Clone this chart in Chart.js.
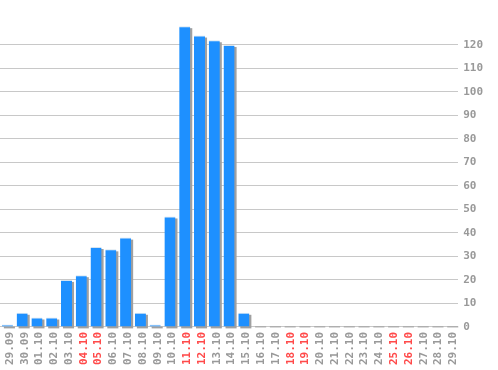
<!DOCTYPE html>
<html>
<head>
<meta charset="utf-8">
<script src="https://cdn.jsdelivr.net/npm/chart.js@4/dist/chart.umd.min.js"></script>
<style>
html,body{margin:0;padding:0;background:#fff;}
#wrap{width:498px;height:370px;position:relative;}
</style>
</head>
<body>
<div id="wrap"><canvas id="c" width="498" height="370"></canvas></div>
<script>
const categories = ["29.09","30.09","01.10","02.10","03.10","04.10","05.10","06.10","07.10","08.10","09.10","10.10","11.10","12.10","13.10","14.10","15.10","16.10","17.10","18.10","19.10","20.10","21.10","22.10","23.10","24.10","25.10","26.10","27.10","28.10","29.10"];
const values = [1,6,4,4,20,22,34,33,38,6,1,47,128,124,122,120,6,0,0,0,0,0,0,0,0,0,0,0,0,0,0];
const weekendDays = ["04.10","05.10","11.10","12.10","18.10","19.10","25.10","26.10"];
const yTickValues = [0,10,20,30,40,50,60,70,80,90,100,110,120];

const shadowPlugin = {
  id: 'barShadow',
  beforeDatasetsDraw(chart) {
    const ctx = chart.ctx;
    const meta = chart.getDatasetMeta(0);
    ctx.save();
    ctx.fillStyle = '#a0a0a0';
    meta.data.forEach((bar, i) => {
      const p = bar.getProps(['x','y','base','width'], true);
      const left = p.x - p.width / 2 + 2;
      if (values[i] > 0) {
        ctx.fillRect(left, p.y + 2, p.width, p.base - p.y);
      } else {
        ctx.fillRect(left, p.base - 0.5, p.width, 1);
      }
    });
    ctx.restore();
  }
};

new Chart(document.getElementById('c'), {
  type: 'bar',
  data: {
    labels: categories,
    datasets: [{
      data: values,
      backgroundColor: '#1e90ff',
      borderColor: '#d6e4f0',
      borderWidth: (c) => (values[c.dataIndex] > 0 ? {top: 1, left: 0, right: 0, bottom: 0} : 0),
      borderSkipped: false,
      barPercentage: 0.75,
      categoryPercentage: 1.0
    }]
  },
  options: {
    responsive: false,
    animation: false,
    devicePixelRatio: 1,
    layout: { padding: { left: -2, right: 10, top: 0, bottom: 0 } },
    plugins: { legend: { display: false }, tooltip: { enabled: false } },
    scales: {
      x: {
        grid: { display: false, drawTicks: false },
        border: { display: false },
        ticks: {
          minRotation: 90,
          maxRotation: 90,
          autoSkip: false,
          padding: 5,
          labelOffset: 2.5,
          font: { family: 'DejaVu Sans Mono', size: 11, weight: 'bold' },
          color: (c) => (weekendDays.includes(categories[c.index]) ? '#ff4a4a' : '#999999')
        }
      },
      y: {
        position: 'right',
        min: 0,
        max: 134.2,
        afterBuildTicks: (axis) => { axis.ticks = yTickValues.map(v => ({ value: v })); },
        grid: { color: '#c8c8c8', lineWidth: 1, drawTicks: false },
        border: { display: false },
        ticks: {
          padding: 5,
          font: { family: 'DejaVu Sans Mono', size: 11, weight: 'bold' },
          color: '#999999'
        }
      }
    }
  },
  plugins: [shadowPlugin]
});
</script>
</body>
</html>
